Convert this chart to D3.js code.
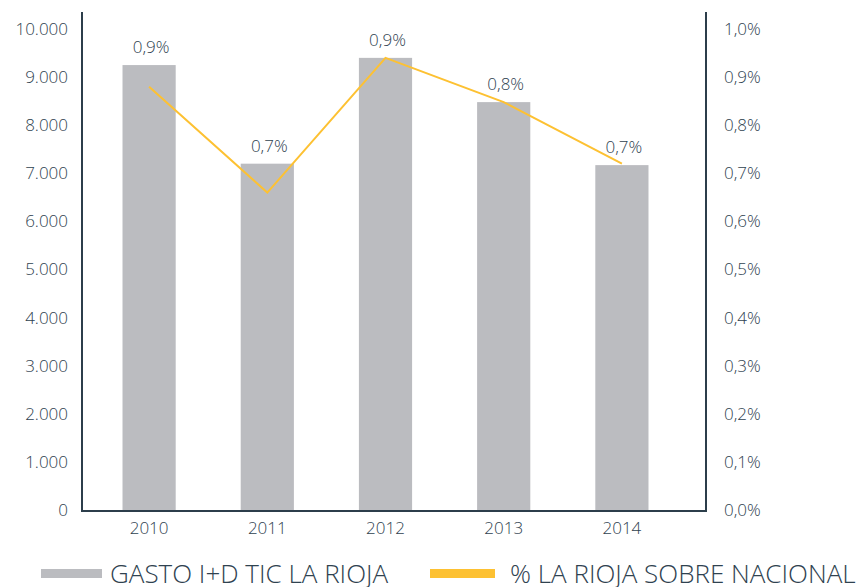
<!DOCTYPE html>
<html>
<head>
<meta charset="utf-8">
<script src="https://cdn.jsdelivr.net/npm/d3@7"></script>
<style>
  body { margin: 0; background: #fff; }
  svg text { font-family: "Open Sans", "Noto Sans", sans-serif; font-weight: 300; fill: #2f4250; }
</style>
</head>
<body>
<div id="chart"></div>
<script>
var years = ["2010", "2011", "2012", "2013", "2014"];
var gasto = [9250, 7200, 9400, 8480, 7170];
var pctNacional = [0.88, 0.66, 0.94, 0.848, 0.72];
var leftTicks = [0, 1000, 2000, 3000, 4000, 5000, 6000, 7000, 8000, 9000, 10000];
var rightTicks = [0, 0.1, 0.2, 0.3, 0.4, 0.5, 0.6, 0.7, 0.8, 0.9, 1.0];
var legendLabels = ["GASTO I+D TIC LA RIOJA", "% LA RIOJA SOBRE NACIONAL"];

var width = 861, height = 587;
var plot = {left: 82, right: 706, top: 12, bottom: 511};

var svg = d3.select("#chart").append("svg")
    .attr("width", width)
    .attr("height", height);

var x = d3.scaleBand()
    .domain(years)
    .range([90, 681])
    .paddingInner(0.55)
    .paddingOuter(0.275);

var yLeft = d3.scaleLinear().domain([0, 10000]).range([510, 29]);
var yRight = d3.scaleLinear().domain([0, 1.0]).range([510, 29]);

var fmtThousands = function(d) { return d3.format(",")(d).replace(/,/g, "."); };
var fmtPct = function(d) { return d3.format(".1f")(d).replace(".", ",") + "%"; };

// bars
svg.append("g").selectAll("rect")
    .data(gasto)
    .enter().append("rect")
    .attr("x", function(d, i) { return x(years[i]); })
    .attr("width", x.bandwidth())
    .attr("y", function(d) { return yLeft(d); })
    .attr("height", function(d) { return plot.bottom - yLeft(d); })
    .attr("fill", "#bbbcc0");

// line
var line = d3.line()
    .x(function(d, i) { return x(years[i]) + x.bandwidth() / 2; })
    .y(function(d) { return yRight(d); });

svg.append("path")
    .datum(pctNacional)
    .attr("fill", "none")
    .attr("stroke", "#fdc132")
    .attr("stroke-width", 2)
    .attr("d", line);

// value labels
svg.append("g").selectAll("text")
    .data(pctNacional)
    .enter().append("text")
    .attr("x", function(d, i) { return x(years[i]) + x.bandwidth() / 2 + 2; })
    .attr("y", function(d, i) { return yLeft(gasto[i]) - 12; })
    .attr("text-anchor", "middle")
    .style("font-size", "17px")
    .text(function(d) { return fmtPct(d); });

// axes lines
var axisColor = "#2c3e4b";
svg.append("line")
    .attr("x1", plot.left).attr("x2", plot.left)
    .attr("y1", plot.top).attr("y2", plot.bottom)
    .attr("stroke", axisColor).attr("stroke-width", 2);
svg.append("line")
    .attr("x1", plot.right).attr("x2", plot.right)
    .attr("y1", plot.top).attr("y2", plot.bottom)
    .attr("stroke", axisColor).attr("stroke-width", 2);
svg.append("line")
    .attr("x1", plot.left - 1).attr("x2", plot.right + 1)
    .attr("y1", plot.bottom).attr("y2", plot.bottom)
    .attr("stroke", axisColor).attr("stroke-width", 2);

// left ticks
svg.append("g").selectAll("text")
    .data(leftTicks)
    .enter().append("text")
    .attr("x", 68)
    .attr("y", function(d) { return yLeft(d); })
    .attr("dy", "0.35em")
    .attr("text-anchor", "end")
    .style("font-size", "17px")
    .text(fmtThousands);

// right ticks
svg.append("g").selectAll("text")
    .data(rightTicks)
    .enter().append("text")
    .attr("x", 724)
    .attr("y", function(d) { return yRight(d); })
    .attr("dy", "0.35em")
    .attr("text-anchor", "start")
    .style("font-size", "17px")
    .text(fmtPct);

// x ticks
svg.append("g").selectAll("text")
    .data(years)
    .enter().append("text")
    .attr("x", function(d) { return x(d) + x.bandwidth() / 2; })
    .attr("y", 528)
    .attr("dy", "0.35em")
    .attr("text-anchor", "middle")
    .style("font-size", "17px")
    .text(function(d) { return d; });

// legend
var legendColors = ["#bbbcc0", "#fdc132"];
var legendX = [41, 430];
var legend = svg.append("g").selectAll("g")
    .data(legendLabels)
    .enter().append("g")
    .attr("transform", function(d, i) { return "translate(" + legendX[i] + ",569)"; });

legend.append("rect")
    .attr("width", function(d, i) { return i == 0 ? 61 : 65; })
    .attr("height", 9)
    .attr("fill", function(d, i) { return legendColors[i]; });

legend.append("text")
    .attr("x", function(d, i) { return i == 0 ? 69 : 80; })
    .attr("y", 14)
    .style("font-size", "26px")
    .text(function(d) { return d; });
</script>
</body>
</html>
